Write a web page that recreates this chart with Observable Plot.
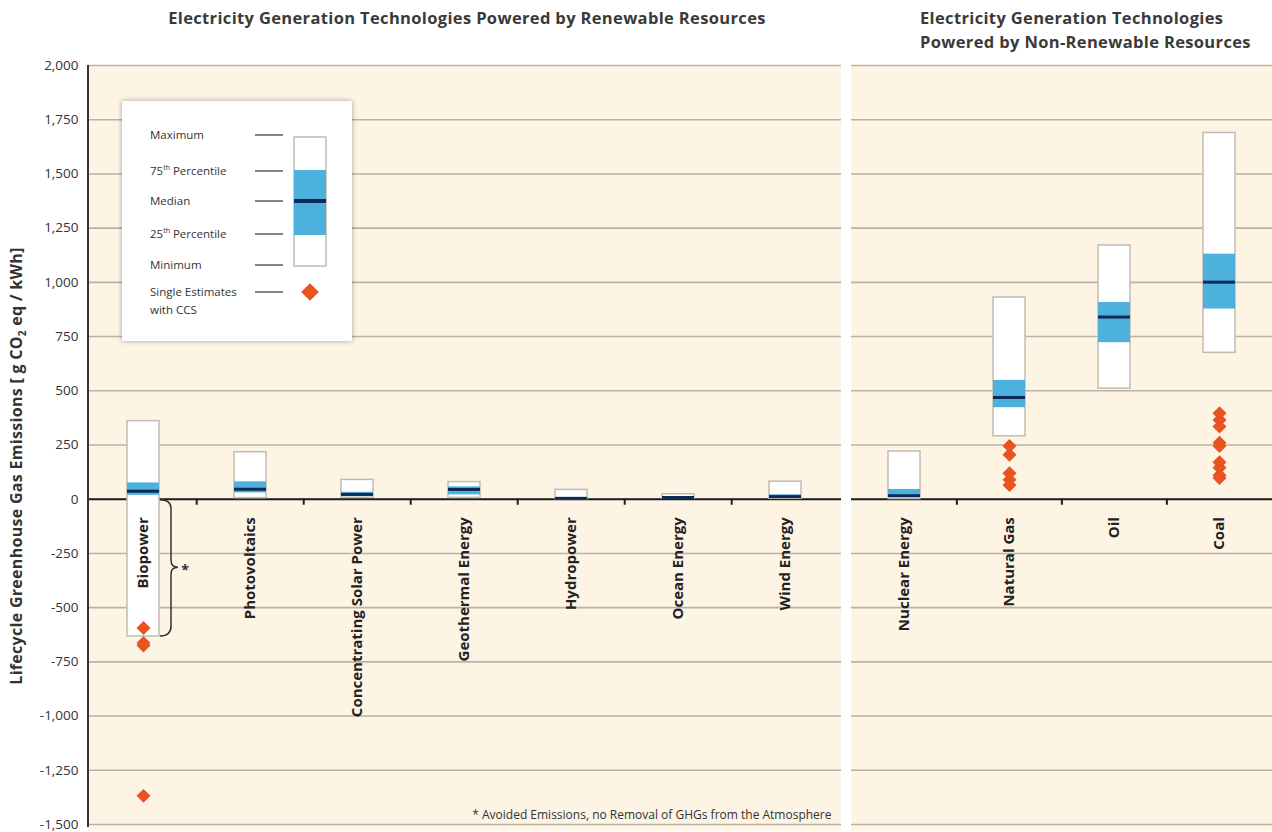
<!DOCTYPE html>
<html>
<head>
<meta charset="utf-8">
<script src="https://cdn.jsdelivr.net/npm/d3@7"></script>
<script src="https://cdn.jsdelivr.net/npm/@observablehq/plot@0.6"></script>
<style>
  html, body { margin: 0; padding: 0; background: #ffffff; }
  #wrap { position: relative; width: 1272px; height: 832px; overflow: hidden; font-family: "Open Sans", "Noto Sans", sans-serif; color: #333; }
  .title { position: absolute; font-weight: 700; font-size: 16.5px; letter-spacing: 0.35px; color: #3a3a3a; text-align: center; line-height: 24px; white-space: nowrap; }
  #ylabel { position: absolute; left: 17px; top: 466px; transform: translate(-50%, -50%) rotate(-90deg); white-space: nowrap; font-weight: 700; font-size: 16px; letter-spacing: 0.3px; color: #333; }
  #legend { position: absolute; left: 122px; top: 101px; width: 230px; height: 240px; background: #fff; box-shadow: 0 0 5px rgba(0,0,0,0.35); }
  #left { position: absolute; left: 0; top: 0; }
  #right { position: absolute; left: 851px; top: 0; }
</style>
</head>
<body>
<div id="wrap">
  <div id="left"></div>
  <div id="right"></div>
  <div class="title" style="left:117px; top:6px; width:700px;">Electricity Generation Technologies Powered by Renewable Resources</div>
  <div class="title" style="left:920px; top:6px; width:300px;">Electricity Generation Technologies<br>Powered by Non-Renewable Resources</div>
  <div id="ylabel">Lifecycle Greenhouse Gas Emissions [ g CO<sub style="font-size:10px">2</sub> eq / kWh]</div>
  <div id="legend"></div>
</div>
<script>
// ---- Data ----
const renewables = ["Biopower", "Photovoltaics", "Concentrating Solar Power", "Geothermal Energy", "Hydropower", "Ocean Energy", "Wind Energy"];
const nonRenewables = ["Nuclear Energy", "Natural Gas", "Oil", "Coal"];
const technologies = renewables.concat(nonRenewables);
const minimum = [-633, 5, 7, 6, 0, 2, 2, 1, 290, 510, 675];
const p25     = [18, 29, 14, 20, 3, 6, 8, 8, 422, 722, 877];
const median  = [37, 46, 22, 45, 4, 8, 12, 16, 469, 840, 1001];
const p75     = [75, 80, 32, 57, 7, 9, 20, 45, 548, 907, 1130];
const maximum = [360, 217, 89, 79, 43, 23, 81, 220, 930, 1170, 1689];
const ccsTech  = ["Biopower", "Biopower", "Biopower", "Biopower",
                  "Natural Gas", "Natural Gas", "Natural Gas", "Natural Gas", "Natural Gas",
                  "Coal", "Coal", "Coal", "Coal", "Coal", "Coal", "Coal", "Coal", "Coal"];
const ccsValue = [-594, -663, -675, -1368,
                  245, 205, 120, 90, 65,
                  396, 365, 335, 260, 245, 170, 145, 110, 98];
const yTicks = [-1500, -1250, -1000, -750, -500, -250, 0, 250, 500, 750, 1000, 1250, 1500, 1750, 2000];
const footnote = "* Avoided Emissions, no Removal of GHGs from the Atmosphere";

// ---- Tables ----
const stats = technologies.map((t, i) => ({tech: t, min: minimum[i], q1: p25[i], med: median[i], q3: p75[i], max: maximum[i]}));
const ccs = ccsTech.map((t, i) => ({tech: t, value: ccsValue[i]}));

// ---- Styles ----
const cream = "#fdf4e4";
const gridColor = "#b9b2a7";
const boxStroke = "#c2bbb2";
const blue = "#4cb1dc";
const navy = "#0c2a55";
const orange = "#e8531f";
const font = '"Open Sans", "Noto Sans", sans-serif';
const fmt = d => d.toLocaleString("en-US");

function panel(cats, opts) {
  const W = opts.width, mL = opts.marginLeft;
  const step = (W - mL) / cats.length;
  const s = stats.filter(d => cats.includes(d.tech));
  const c = ccs.filter(d => cats.includes(d.tech));
  const marks = [
    Plot.frame({fill: cream, stroke: null, insetBottom: -6}),
    Plot.ruleY(yTicks, {stroke: gridColor, strokeWidth: 1.6}),
    Plot.ruleY([0], {stroke: "#1e1e1e", strokeWidth: 2}),
    Plot.ruleX(cats.slice(1), {x: d => d, dx: -step / 2, y1: () => 0, y2: () => 0, insetBottom: -6, stroke: "#1e1e1e", strokeWidth: 2}),
    Plot.barY(s, {x: "tech", y1: "min", y2: "max", fill: "#ffffff", stroke: boxStroke, strokeWidth: 1.5}),
    Plot.barY(s, {x: "tech", y1: "q1", y2: "q3", fill: blue}),
    Plot.tickY(s, {x: "tech", y: "med", stroke: navy, strokeWidth: 3}),
    Plot.text(cats, {x: d => d, y: () => 0, text: d => d, rotate: -90, textAnchor: "end", dy: 18, fontSize: 15, fontWeight: 700, fill: "#222", ariaLabel: "category-label"}),
    Plot.dot(c, {x: "tech", y: "value", symbol: "diamond2", r: 6.3, fill: orange, stroke: null})
  ];
  if (opts.axis) {
    marks.push(Plot.axisY({ticks: yTicks, tickFormat: fmt, tickSize: 0, tickPadding: 10, fontSize: 13.5, label: null}));
    marks.push(Plot.text([footnote], {frameAnchor: "bottom-right", dx: -10, dy: -6, fontSize: 12, fill: "#333"}));
  }
  const p = Plot.plot({
    width: W, height: 832,
    marginLeft: mL, marginRight: 0, marginTop: 65, marginBottom: 8,
    style: {fontFamily: font, fontSize: "12.5px", background: "transparent", color: "#333"},
    x: {domain: cats, paddingInner: 0.7, paddingOuter: 0.35, axis: null},
    y: {domain: [-1500, 2000], axis: null},
    marks
  });
  d3.select(p).selectAll("g[aria-label='category-label'] text").style("letter-spacing", "0.7px");
  return p;
}

const left = panel(renewables, {width: 841, marginLeft: 88, axis: true});
const right = panel(nonRenewables, {width: 421, marginLeft: 0, axis: false});
document.getElementById("left").appendChild(left);
document.getElementById("right").appendChild(right);

// Left axis line and bracket for Biopower
{
  const ys = left.scale("y"), xs = left.scale("x");
  const svg = d3.select(left);
  svg.append("line")
    .attr("x1", 88).attr("x2", 88)
    .attr("y1", ys.apply(2000)).attr("y2", ys.apply(-1500) + 3)
    .attr("stroke", "#333").attr("stroke-width", 2);
  const bx = xs.apply("Biopower") + xs.bandwidth + 1;
  const y0 = ys.apply(0), y1 = ys.apply(minimum[0]);
  const mid = (y0 + y1) / 2;
  const p = d3.path();
  p.moveTo(bx, y0 + 1);
  p.quadraticCurveTo(bx + 11, y0 + 1, bx + 11, y0 + 10);
  p.lineTo(bx + 11, mid - 7);
  p.quadraticCurveTo(bx + 11, mid, bx + 18, mid);
  p.quadraticCurveTo(bx + 11, mid, bx + 11, mid + 7);
  p.lineTo(bx + 11, y1 - 10);
  p.quadraticCurveTo(bx + 11, y1, bx, y1);
  svg.append("path").attr("d", p.toString()).attr("fill", "none").attr("stroke", "#333").attr("stroke-width", 1.5);
  svg.append("text").attr("x", bx + 25).attr("y", mid + 8).attr("font-size", 14).attr("font-weight", 700)
    .attr("fill", "#333").attr("text-anchor", "middle").text("*");
}

// Legend
{
  const lg = d3.select("#legend").append("svg").attr("width", 230).attr("height", 240)
    .style("font-family", font).style("font-size", "11.5px");
  const rows = [
    {label: "Maximum", y: 34},
    {label: "75", sup: "th", rest: " Percentile", y: 70},
    {label: "Median", y: 100},
    {label: "25", sup: "th", rest: " Percentile", y: 133},
    {label: "Minimum", y: 164},
    {label: "Single Estimates", y: 191}
  ];
  rows.forEach(r => {
    const t = lg.append("text").attr("x", 28).attr("y", r.y + 4).attr("fill", "#333");
    t.append("tspan").text(r.label);
    if (r.sup) {
      t.append("tspan").attr("font-size", "7px").attr("dy", -5).text(r.sup);
      t.append("tspan").attr("dy", 5).text(r.rest);
    }
    lg.append("line").attr("x1", 133).attr("x2", 161).attr("y1", r.y).attr("y2", r.y).attr("stroke", "#333").attr("stroke-width", 1.2);
  });
  lg.append("text").attr("x", 28).attr("y", 213).attr("fill", "#333").text("with CCS");
  lg.append("rect").attr("x", 172).attr("y", 36).attr("width", 32).attr("height", 129).attr("fill", "#fff").attr("stroke", boxStroke).attr("stroke-width", 1.5);
  lg.append("rect").attr("x", 172).attr("y", 69).attr("width", 32).attr("height", 65).attr("fill", blue);
  lg.append("rect").attr("x", 172).attr("y", 98).attr("width", 32).attr("height", 4).attr("fill", navy);
  lg.append("path").attr("d", d3.symbol(d3.symbolDiamond2, 200)()).attr("transform", "translate(188,191)").attr("fill", orange);
}
</script>
</body>
</html>
